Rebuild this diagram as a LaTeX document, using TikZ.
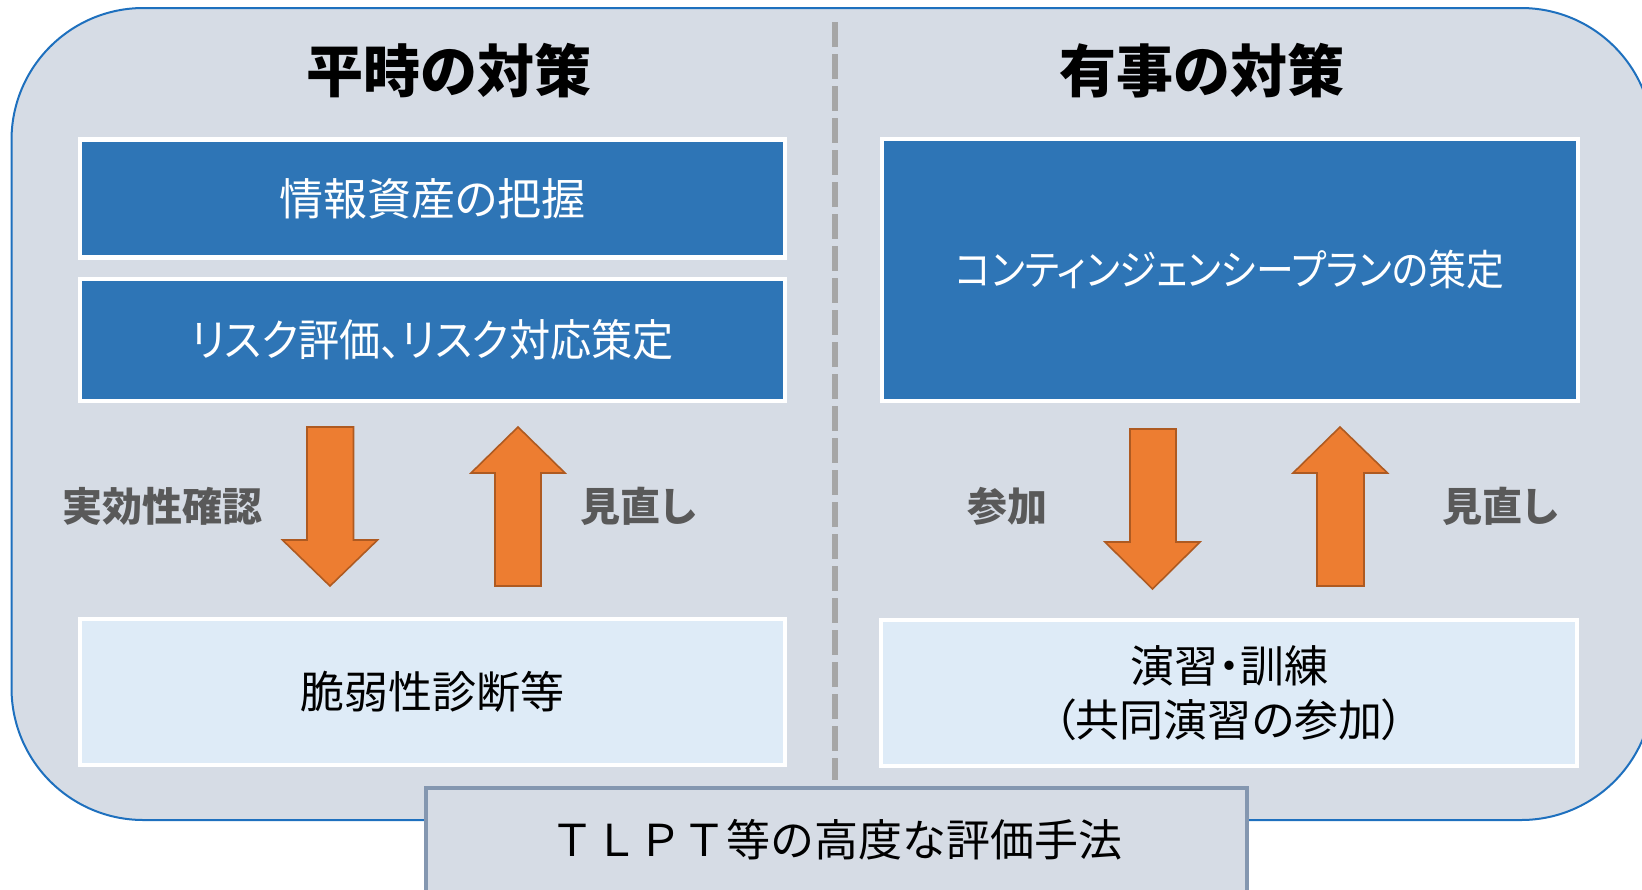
\documentclass[tikz,border=0pt]{standalone}
\usepackage{graphicx}
\usepackage{fontspec}
\setmainfont{Noto Sans CJK JP}
\newfontfamily\jpp{Noto Sans CJK JP}[RawFeature=+palt]
\definecolor{bg}{HTML}{D6DCE5}
\definecolor{outline}{HTML}{1E70BE}
\definecolor{boxblue}{HTML}{2E75B6}
\definecolor{boxlight}{HTML}{DEEBF7}
\definecolor{bottomline}{HTML}{8497B0}
\definecolor{dashgray}{HTML}{A6A6A6}
\definecolor{labgray}{HTML}{595959}
\definecolor{arrfill}{HTML}{ED7D31}
\definecolor{arrline}{HTML}{AE5A21}
\begin{document}
\begin{tikzpicture}[x=0.5pt,y=-0.5pt,
  box/.style={draw=white, line width=2.2pt, inner sep=0pt, align=center,
    font=\jpp\fontsize{22}{27}\selectfont},
  bluebox/.style={box, fill=boxblue, text=white},
  lightbox/.style={box, fill=boxlight, text=black},
  titletext/.style={font=\fontsize{28.5}{32}\selectfont\bfseries},
  lab/.style={font=\jpp\fontsize{20}{24}\selectfont\bfseries, text=labgray},
  barrow/.style={fill=arrfill, draw=arrline, line width=0.8pt, line join=miter}
]
\useasboundingbox (0,0) rectangle (1642,889);
% background panel
\path[draw=outline, fill=bg, line width=1pt, rounded corners=66pt] (11.5,8) rectangle (1653,820);
% divider
\coordinate (dtop) at (835,22);
\coordinate (dbot) at (835,780);
\draw[dashgray, line width=3.2pt, dash pattern=on 12.5pt off 3.5pt] (dtop) -- (dbot);
% titles
\node[titletext] (t1) at (448.5,71) {平時の対策};
\node[titletext] (t2) at (1202,71) {有事の対策};
% left column
\node[bluebox, minimum width=352.5pt, minimum height=59pt] (a1) at (432.3,198.5) {情報資産の把握};
\node[bluebox, minimum width=352.5pt, minimum height=61pt] (a2) at (432.3,340) {\scalebox{0.935}[1]{リスク評価、リスク対応策定}};
\node[lightbox, minimum width=352.5pt, minimum height=73pt] (a3) at (432.3,692) {脆弱性診断等};
% right column
\node[bluebox, minimum width=348pt, minimum height=131pt, font=\jpp\fontsize{21}{26}\selectfont] (b1) at (1230,270) {\scalebox{0.9}[1]{コンティンジェンシープランの策定}};
\node[lightbox, minimum width=348pt, minimum height=73pt] (b3) at (1229,693) {演習・訓練\\（共同演習の参加）};
% bottom box
\node[draw=bottomline, fill=bg, line width=2pt, minimum width=410.5pt, minimum height=52pt,
  font=\fontsize{22}{27}\selectfont] (c) at (836.5,840) {ＴＬＰＴ等の高度な評価手法};
% block arrows
\path[barrow] (307,427) -- (353.5,427) -- (353.5,540) -- (377.5,540) -- (330,586) -- (282.5,540) -- (307,540) -- cycle;
\path[barrow] (518,427) -- (565,473) -- (541,473) -- (541,586) -- (495,586) -- (495,473) -- (471,473) -- cycle;
\path[barrow] (1130,429) -- (1176,429) -- (1176,542) -- (1200,542) -- (1152.5,589) -- (1105,542) -- (1130,542) -- cycle;
\path[barrow] (1340,427) -- (1387.5,473) -- (1364,473) -- (1364,586) -- (1317,586) -- (1317,473) -- (1293,473) -- cycle;
% labels
\node[lab] (l1) at (162.5,506) {実効性確認};
\node[lab] (l2) at (638,506) {見直し};
\node[lab] (l3) at (1007,506) {参加};
\node[lab] (l4) at (1500,506) {見直し};
\end{tikzpicture}
\end{document}
